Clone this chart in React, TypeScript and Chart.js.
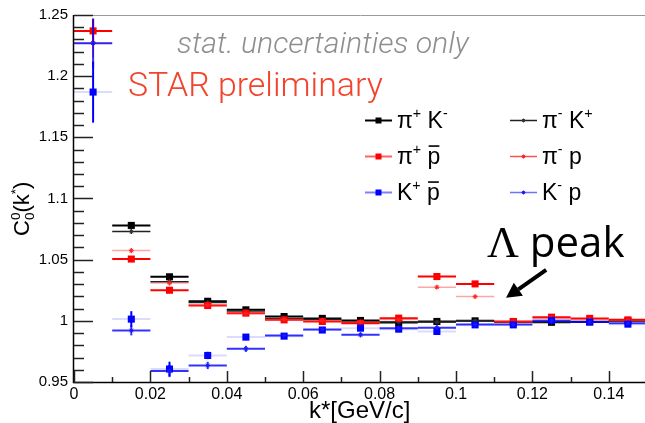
import React, { useEffect, useRef } from "react";
import { Chart, registerables } from "chart.js";

Chart.register(...registerables);

// k* bin centres (GeV/c); every bin is 0.01 wide
const kStar = [0.005, 0.015, 0.025, 0.035, 0.045, 0.055, 0.065, 0.075, 0.085, 0.095, 0.105, 0.115, 0.125, 0.135, 0.145];
const binHalfWidth = 0.005;

// C0_0(k*) per pair type (null = outside the plotted range)
const piPlusKMinus = [null, 1.078, 1.036, 1.016, 1.009, 1.0035, 1.002, 1.0003, 0.9986, 0.9995, 1.0, 0.999, 0.9988, 0.9992, 1.0];
const piPlusKMinusErr = [0, 0.002, 0.002, 0.0015, 0.0015, 0.0015, 0.0015, 0.0015, 0.0015, 0.0015, 0.0015, 0.0015, 0.0015, 0.0015, 0.0015];

const piMinusKPlus = [null, 1.073, 1.032, 1.015, 1.008, 1.002, 1.001, 0.999, 0.999, 0.999, 1.0, 0.999, 0.999, 0.999, 1.0];
const piMinusKPlusErr = [0, 0.002, 0.002, 0.0015, 0.0015, 0.0015, 0.0015, 0.0015, 0.0015, 0.0015, 0.0015, 0.0015, 0.0015, 0.0015, 0.0015];

const piPlusPbar = [1.237, 1.0505, 1.025, 1.0125, 1.0063, 1.0008, 0.9995, 0.998, 1.0022, 1.0362, 1.0302, 0.9995, 1.003, 1.002, 1.0008];
const piPlusPbarErr = [0.01, 0.002, 0.002, 0.0015, 0.0015, 0.0015, 0.0015, 0.0015, 0.0015, 0.0015, 0.0015, 0.0015, 0.0015, 0.0015, 0.0015];

const piMinusP = [1.227, 1.0574, 1.031, 1.013, 1.006, 1.001, 1.0, 0.999, 1.001, 1.0275, 1.0198, 0.999, 1.002, 1.001, 1.0];
const piMinusPErr = [0.012, 0.002, 0.002, 0.0015, 0.0015, 0.0015, 0.0015, 0.0015, 0.0015, 0.0015, 0.0015, 0.0015, 0.0015, 0.0015, 0.0015];

const kPlusPbar = [1.187, 1.0014, 0.9606, 0.9717, 0.9867, 0.9875, 0.9925, 0.994, 0.9932, 0.9913, 0.9967, 0.9967, 1.0003, 0.999, 0.9973];
const kPlusPbarErr = [0.025, 0.0065, 0.006, 0.003, 0.0025, 0.002, 0.002, 0.002, 0.002, 0.002, 0.002, 0.002, 0.002, 0.002, 0.002];

const kMinusP = [1.227, 0.9921, 0.959, 0.9635, 0.9771, 0.988, 0.993, 0.9886, 0.994, 0.9943, 0.997, 0.997, 1.0, 0.999, 0.998];
const kMinusPErr = [0.02, 0.004, 0.005, 0.003, 0.0025, 0.002, 0.002, 0.002, 0.002, 0.002, 0.002, 0.002, 0.002, 0.002, 0.002];

// axis ticks
const xTickValues = [0, 0.02, 0.04, 0.06, 0.08, 0.1, 0.12, 0.14];
const xMinorStep = 0.01;
const yTickValues = [0.95, 1.0, 1.05, 1.1, 1.15, 1.2, 1.25];
const yMinorStep = 0.01;

// text
const xTitle = "k*[GeV/c]";
const noteText = "stat. uncertainties only";
const starText = "STAR preliminary";
const peakText = "peak";
const peakSymbol = "Λ";

type Seg = { t: string; sup?: boolean; sub?: boolean; bar?: boolean; stay?: boolean };

const legendLabels: Seg[][] = [
  [{ t: "π" }, { t: "+", sup: true }, { t: " K" }, { t: "-", sup: true }],
  [{ t: "π" }, { t: "-", sup: true }, { t: " K" }, { t: "+", sup: true }],
  [{ t: "π" }, { t: "+", sup: true }, { t: " " }, { t: "p", bar: true }],
  [{ t: "π" }, { t: "-", sup: true }, { t: " p" }],
  [{ t: "K" }, { t: "+", sup: true }, { t: " " }, { t: "p", bar: true }],
  [{ t: "K" }, { t: "-", sup: true }, { t: " p" }],
];

const yTitle: Seg[] = [{ t: "C" }, { t: "0", sub: true, stay: true }, { t: "0", sup: true }, { t: "(k" }, { t: "*", sup: true }, { t: ")" }];

const SANS = '"Liberation Sans", Arial, Helvetica, sans-serif';

type SeriesStyle = {
  values: (number | null)[];
  errors: number[];
  color: string;
  hColor: string;
  vColor: string;
  errWidth: number;
  pointStyle: string;
  radius: number;
  legendLine: string;
};

const series: SeriesStyle[] = [
  { values: piPlusKMinus, errors: piPlusKMinusErr, color: "#000000", hColor: "#000000", vColor: "#000000", errWidth: 2, pointStyle: "rect", radius: 5, legendLine: "#000000" },
  { values: piMinusKPlus, errors: piMinusKPlusErr, color: "#333333", hColor: "#222222", vColor: "#222222", errWidth: 1.5, pointStyle: "star", radius: 2.5, legendLine: "#222222" },
  { values: piPlusPbar, errors: piPlusPbarErr, color: "#ff0000", hColor: "#ff0000", vColor: "#ff0000", errWidth: 2, pointStyle: "rect", radius: 5, legendLine: "#ff6060" },
  { values: piMinusP, errors: piMinusPErr, color: "#ff2020", hColor: "rgba(255,60,60,0.45)", vColor: "rgba(255,0,0,0.7)", errWidth: 1.5, pointStyle: "star", radius: 2.5, legendLine: "#ff5050" },
  { values: kPlusPbar, errors: kPlusPbarErr, color: "#0000ff", hColor: "rgba(90,90,255,0.22)", vColor: "#0000ff", errWidth: 2, pointStyle: "rect", radius: 5, legendLine: "#8080ff" },
  { values: kMinusP, errors: kMinusPErr, color: "#1a1aff", hColor: "rgba(0,0,255,0.8)", vColor: "rgba(0,0,255,0.8)", errWidth: 2, pointStyle: "star", radius: 2.5, legendLine: "#7070ff" },
];

const fmt = (v: number) => String(+v.toFixed(2));

function drawRich(ctx: CanvasRenderingContext2D, segs: Seg[], x: number, y: number, size: number, family: string) {
  let cx = x;
  for (const s of segs) {
    const small = s.sup || s.sub;
    const fs = small ? size * 0.62 : size;
    ctx.font = `${fs}px ${family}`;
    const dy = s.sup ? -size * 0.42 : s.sub ? size * 0.22 : 0;
    ctx.fillText(s.t, cx, y + dy);
    const w = ctx.measureText(s.t).width;
    if (s.bar) {
      ctx.save();
      ctx.lineWidth = Math.max(1.2, size * 0.07);
      ctx.strokeStyle = ctx.fillStyle as string;
      ctx.beginPath();
      ctx.moveTo(cx + w * 0.08, y - size * 0.78);
      ctx.lineTo(cx + w * 0.92, y - size * 0.78);
      ctx.stroke();
      ctx.restore();
    }
    if (!s.stay) cx += w;
  }
  return cx - x;
}

function fitFont(ctx: CanvasRenderingContext2D, text: string, style: string, width: number) {
  ctx.font = `${style} 100px ${'Roboto, "Liberation Sans", Arial, sans-serif'}`;
  const w = ctx.measureText(text).width;
  return (100 * width) / w;
}

function drawMarker(ctx: CanvasRenderingContext2D, style: string, x: number, y: number, r: number, color: string) {
  ctx.save();
  ctx.fillStyle = color;
  ctx.strokeStyle = color;
  ctx.lineWidth = 1;
  if (style === "rect") {
    ctx.fillRect(x - r, y - r, 2 * r, 2 * r);
  } else {
    ctx.beginPath();
    ctx.moveTo(x - r, y); ctx.lineTo(x + r, y);
    ctx.moveTo(x, y - r); ctx.lineTo(x, y + r);
    ctx.moveTo(x - r * 0.7, y - r * 0.7); ctx.lineTo(x + r * 0.7, y + r * 0.7);
    ctx.moveTo(x - r * 0.7, y + r * 0.7); ctx.lineTo(x + r * 0.7, y - r * 0.7);
    ctx.stroke();
  }
  ctx.restore();
}

// horizontal (bin width) and vertical (stat.) error bars, drawn just before each dataset's markers
const errorBarPlugin = {
  id: "errorBars",
  beforeDatasetDraw(chart: any, args: any) {
    const { ctx, chartArea } = chart;
    const xs = chart.scales.x;
    const ys = chart.scales.y;
    const ds = chart.data.datasets[args.index];
    ctx.save();
    ctx.beginPath();
    ctx.rect(chartArea.left, chartArea.top, chartArea.right - chartArea.left, chartArea.bottom - chartArea.top);
    ctx.clip();
    ctx.lineWidth = ds.errWidth;
    for (const p of ds.data) {
      const px = xs.getPixelForValue(p.x);
      const py = ys.getPixelForValue(p.y);
      ctx.strokeStyle = ds.hColor;
      ctx.beginPath();
      ctx.moveTo(xs.getPixelForValue(p.x - binHalfWidth), py);
      ctx.lineTo(xs.getPixelForValue(p.x + binHalfWidth), py);
      ctx.stroke();
      if (p.e > 0) {
        ctx.strokeStyle = ds.vColor;
        ctx.beginPath();
        ctx.moveTo(px, ys.getPixelForValue(p.y - p.e));
        ctx.lineTo(px, ys.getPixelForValue(p.y + p.e));
        ctx.stroke();
      }
    }
    ctx.restore();
  },
};

// frame, inside ticks, titles, legend and annotations
const decorPlugin = {
  id: "decor",
  afterDraw(chart: any) {
    const { ctx, chartArea } = chart;
    const xs = chart.scales.x;
    const ys = chart.scales.y;
    const { left, right, top, bottom } = chartArea;
    ctx.save();

    // frame
    ctx.strokeStyle = "#9a9a9a";
    ctx.lineWidth = 1;
    ctx.beginPath();
    ctx.moveTo(left, top + 0.5);
    ctx.lineTo(right, top + 0.5);
    ctx.stroke();
    ctx.strokeStyle = "#000";
    ctx.lineWidth = 1.5;
    ctx.beginPath();
    ctx.moveTo(left - 0.5, top);
    ctx.lineTo(left - 0.5, bottom + 0.5);
    ctx.lineTo(right, bottom + 0.5);
    ctx.stroke();

    // y ticks
    ctx.lineWidth = 1.5;
    ctx.strokeStyle = "#222";
    const yMin = ys.min, yMax = ys.max;
    for (let v = yMin; v <= yMax + 1e-9; v += yMinorStep) {
      const isMajor = yTickValues.some((t) => Math.abs(t - v) < 1e-6);
      const py = Math.round(ys.getPixelForValue(v)) + 0.5;
      ctx.beginPath();
      ctx.moveTo(left, py);
      ctx.lineTo(left + (isMajor ? 19 : 10), py);
      ctx.stroke();
    }
    // x ticks
    for (let v = xs.min; v <= xs.max + 1e-9; v += xMinorStep) {
      const isMajor = xTickValues.some((t) => Math.abs(t - v) < 1e-6);
      const px = Math.round(xs.getPixelForValue(v)) + 0.5;
      ctx.beginPath();
      ctx.moveTo(px, bottom);
      ctx.lineTo(px, bottom - (isMajor ? 11 : 5));
      ctx.stroke();
    }

    // axis titles
    ctx.fillStyle = "#000";
    ctx.textBaseline = "alphabetic";
    ctx.textAlign = "left";
    ctx.font = `24px ${SANS}`;
    ctx.fillText(xTitle, 309, 418);

    ctx.save();
    ctx.translate(29, 236);
    ctx.rotate(-Math.PI / 2);
    drawRich(ctx, yTitle, 0, 0, 22, SANS);
    ctx.restore();

    // notes
    ctx.fillStyle = "#8e8e8e";
    let fs = fitFont(ctx, noteText, "italic 300", 292);
    ctx.font = `italic 300 ${fs}px Roboto, "Liberation Sans", Arial, sans-serif`;
    ctx.fillText(noteText, 177, 53);

    ctx.fillStyle = "#f2432c";
    fs = fitFont(ctx, starText, "300", 255);
    ctx.font = `300 ${fs}px Roboto, "Liberation Sans", Arial, sans-serif`;
    ctx.fillText(starText, 128, 96);

    // legend
    const colX = [365, 510];
    const rowY = [120, 156, 192];
    series.forEach((s, i) => {
      const col = i % 2;
      const row = Math.floor(i / 2);
      const x0 = colX[col];
      const y0 = rowY[row];
      ctx.strokeStyle = s.legendLine;
      ctx.lineWidth = col === 0 ? 2 : 1.5;
      ctx.beginPath();
      ctx.moveTo(x0, y0 + 0.5);
      ctx.lineTo(x0 + 27, y0 + 0.5);
      ctx.stroke();
      drawMarker(ctx, s.pointStyle, x0 + 13.5, y0 + 0.5, s.pointStyle === "rect" ? 3 : 2, s.color);
      ctx.fillStyle = "#000";
      drawRich(ctx, legendLabels[i], x0 + 32, y0 + 8, 23, SANS);
    });

    // Λ peak annotation
    ctx.fillStyle = "#000";
    ctx.font = `44px "Liberation Serif", "DejaVu Serif", serif`;
    ctx.fillText(peakSymbol, 487, 257);
    const lw = ctx.measureText(peakSymbol).width;
    ctx.font = `42px "Open Sans", "DejaVu Sans", sans-serif`;
    ctx.fillText(" " + peakText, 487 + lw, 257);

    const ax0 = xs.getPixelForValue(0.1236), ay0 = ys.getPixelForValue(1.0416);
    const ax1 = xs.getPixelForValue(0.1131), ay1 = ys.getPixelForValue(1.0188);
    const ang = Math.atan2(ay1 - ay0, ax1 - ax0);
    const headLen = 15, headHalf = 8;
    const bx = ax1 - headLen * Math.cos(ang), by = ay1 - headLen * Math.sin(ang);
    ctx.strokeStyle = "#000";
    ctx.lineWidth = 4;
    ctx.beginPath();
    ctx.moveTo(ax0, ay0);
    ctx.lineTo(bx, by);
    ctx.stroke();
    ctx.beginPath();
    ctx.moveTo(ax1, ay1);
    ctx.lineTo(bx + headHalf * Math.sin(ang), by - headHalf * Math.cos(ang));
    ctx.lineTo(bx - headHalf * Math.sin(ang), by + headHalf * Math.cos(ang));
    ctx.closePath();
    ctx.fill();

    ctx.restore();
  },
};

export default function App() {
  const canvasRef = useRef<HTMLCanvasElement | null>(null);

  useEffect(() => {
    const canvas = canvasRef.current;
    if (!canvas) return;

    const datasets = series.map((s, i) => ({
      data: kStar
        .map((k, j) => (s.values[j] == null ? null : { x: k, y: s.values[j] as number, e: s.errors[j] }))
        .filter((p) => p !== null),
      pointStyle: s.pointStyle,
      pointRadius: s.radius,
      pointBorderWidth: s.pointStyle === "rect" ? 0 : 1,
      pointBackgroundColor: s.color,
      pointBorderColor: s.color,
      showLine: false,
      order: -i,
      hColor: s.hColor,
      vColor: s.vColor,
      errWidth: s.errWidth,
    }));

    const chart = new Chart(canvas, {
      type: "scatter",
      data: { datasets: datasets as any },
      options: {
        animation: false,
        responsive: false,
        maintainAspectRatio: false,
        devicePixelRatio: 1,
        layout: { padding: { top: 15, right: 4, left: 0, bottom: 0 } },
        plugins: { legend: { display: false }, tooltip: { enabled: false } },
        scales: {
          x: {
            type: "linear",
            min: 0,
            max: 0.15,
            afterFit: (s: any) => { s.height = 41; },
            afterBuildTicks: (s: any) => { s.ticks = xTickValues.map((v) => ({ value: v })); },
            ticks: { font: { family: SANS, size: 16 }, color: "#000", padding: 3, maxRotation: 0, autoSkip: false, callback: (v: any) => fmt(Number(v)) },
            grid: { display: false, drawTicks: false },
            border: { display: false },
          },
          y: {
            type: "linear",
            min: 0.95,
            max: 1.25,
            afterFit: (s: any) => { s.width = 74; },
            afterBuildTicks: (s: any) => { s.ticks = yTickValues.map((v) => ({ value: v })); },
            ticks: { font: { family: SANS, size: 15 }, color: "#000", padding: 6, autoSkip: false, callback: (v: any) => fmt(Number(v)) },
            grid: { display: false, drawTicks: false },
            border: { display: false },
          },
        },
      },
      plugins: [errorBarPlugin, decorPlugin],
    });

    return () => chart.destroy();
  }, []);

  return (
    <div style={{ position: "fixed", left: 0, top: 0, width: 645, height: 423, overflow: "hidden", background: "#fff" }}>
      <canvas ref={canvasRef} width={652} height={423} style={{ display: "block", width: 652, height: 423 }} />
    </div>
  );
}
